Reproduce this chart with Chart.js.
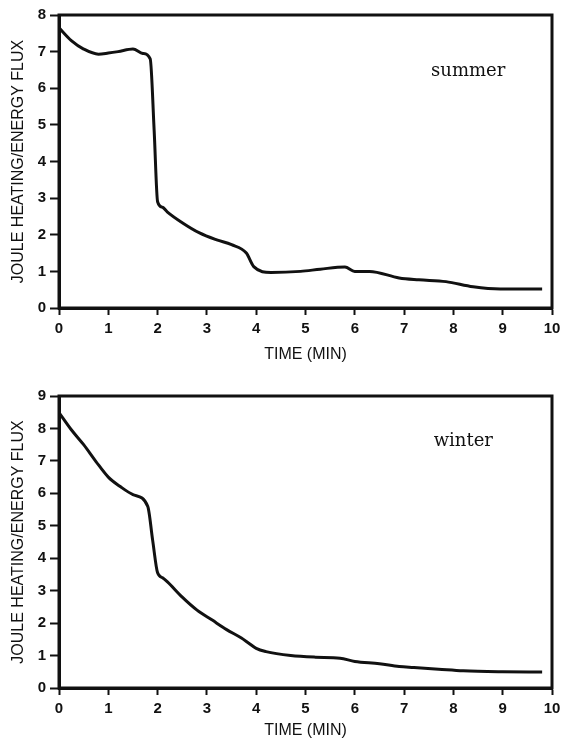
<!DOCTYPE html>
<html>
<head>
<meta charset="utf-8">
<script src="https://cdn.jsdelivr.net/npm/chart.js@4.4.1/dist/chart.umd.min.js"></script>
<style>
  html, body { margin: 0; padding: 0; background: #fff; }
  body { width: 562px; height: 742px; position: relative; overflow: hidden; }
  canvas { position: absolute; left: 0; }
  #summerChart { top: 0; }
  #winterChart { top: 372px; }
</style>
</head>
<body>
<canvas id="summerChart" width="562" height="366"></canvas>
<canvas id="winterChart" width="562" height="370"></canvas>
<script>
// data (time in minutes, ratio joule heating / energy flux)
const summerTime = [0, 0.25, 0.5, 0.8, 1.0, 1.2, 1.5, 1.7, 1.85, 1.93, 2.0, 2.1, 2.2, 2.5, 2.85, 3.2, 3.5, 3.8, 3.95, 4.3, 4.9, 5.3, 5.8, 6.0, 6.3, 6.9, 7.3, 7.85, 8.4, 8.95, 9.8];
const summerFlux = [7.65, 7.3, 7.07, 6.93, 6.96, 7.0, 7.07, 6.95, 6.8, 4.85, 2.9, 2.75, 2.62, 2.33, 2.05, 1.86, 1.73, 1.5, 1.13, 0.97, 1.0, 1.06, 1.12, 1.0, 1.0, 0.82, 0.77, 0.72, 0.58, 0.52, 0.52];

const winterTime = [0, 0.25, 0.5, 0.75, 1.0, 1.25, 1.5, 1.8, 1.9, 2.0, 2.1, 2.2, 2.5, 2.8, 3.1, 3.4, 3.7, 3.85, 4.0, 4.2, 4.7, 5.2, 5.7, 6.0, 6.5, 6.9, 7.2, 7.7, 8.2, 9.0, 9.8];
const winterFlux = [8.49, 7.96, 7.5, 6.98, 6.5, 6.2, 5.96, 5.6, 4.55, 3.55, 3.4, 3.27, 2.8, 2.4, 2.1, 1.8, 1.54, 1.38, 1.22, 1.12, 1.0, 0.95, 0.92, 0.82, 0.75, 0.66, 0.63, 0.58, 0.53, 0.5, 0.49];

const xTicks = [0, 1, 2, 3, 4, 5, 6, 7, 8, 9, 10];
const xTitle = "TIME (MIN)";
const yTitle = "JOULE HEATING/ENERGY FLUX";

const INK = "#111";
const tickFont = { family: "'Liberation Sans', Arial, sans-serif", size: 15, weight: "bold" };
const titleFont = { family: "'Liberation Sans', Arial, sans-serif", size: 16 };

// box around the plot area + season label
const framePlugin = {
  id: "frame",
  afterDraw(chart, args, opts) {
    const { ctx, chartArea: a, scales } = chart;
    ctx.save();
    ctx.strokeStyle = INK;
    ctx.lineWidth = 3;
    ctx.strokeRect(a.left, a.top, a.right - a.left, a.bottom - a.top);
    ctx.fillStyle = INK;
    ctx.font = "18px 'DejaVu Serif', serif";
    ctx.textAlign = "center";
    ctx.textBaseline = "middle";
    ctx.fillText(opts.text, scales.x.getPixelForValue(opts.x), scales.y.getPixelForValue(opts.y));
    ctx.restore();
  }
};

function makeChart(id, times, values, yMax, season, topPad, xHeight) {
  const points = times.map((t, i) => ({ x: t, y: values[i] }));
  return new Chart(document.getElementById(id), {
    type: "line",
    data: {
      datasets: [{
        data: points,
        borderColor: INK,
        borderWidth: 3,
        borderJoinStyle: "round",
        pointRadius: 0,
        cubicInterpolationMode: "monotone",
        fill: false
      }]
    },
    options: {
      responsive: false,
      animation: false,
      layout: { padding: { top: topPad, right: 0, left: 0, bottom: 0 } },
      plugins: {
        legend: { display: false },
        tooltip: { enabled: false },
        frame: season
      },
      scales: {
        x: {
          type: "linear",
          min: 0,
          max: 10,
          afterBuildTicks: s => { s.ticks = xTicks.map(v => ({ value: v })); },
          afterFit: s => { s.height = xHeight; s.paddingLeft = 0; s.paddingRight = 10; },
          ticks: { color: INK, font: tickFont, padding: 5, maxRotation: 0 },
          grid: { drawOnChartArea: false, tickLength: 7, tickColor: INK, tickWidth: 2 },
          border: { color: INK, width: 3 },
          title: { display: true, text: xTitle, color: INK, font: titleFont, padding: { top: 0, bottom: 2 } }
        },
        y: {
          min: 0,
          max: yMax,
          afterFit: s => { s.width = 59; },
          ticks: { stepSize: 1, color: INK, font: tickFont, padding: 4 },
          grid: { drawOnChartArea: false, tickLength: 9, tickColor: INK, tickWidth: 2 },
          border: { color: INK, width: 3 },
          title: { display: true, text: yTitle, color: INK, font: titleFont, padding: { top: 9, bottom: 0 } }
        }
      }
    },
    plugins: [framePlugin]
  });
}

makeChart("summerChart", summerTime, summerFlux, 8, { text: "summer", x: 8.3, y: 6.45 }, 15, 58);
makeChart("winterChart", winterTime, winterFlux, 9, { text: "winter", x: 8.2, y: 7.6 }, 24, 54);
</script>
</body>
</html>
